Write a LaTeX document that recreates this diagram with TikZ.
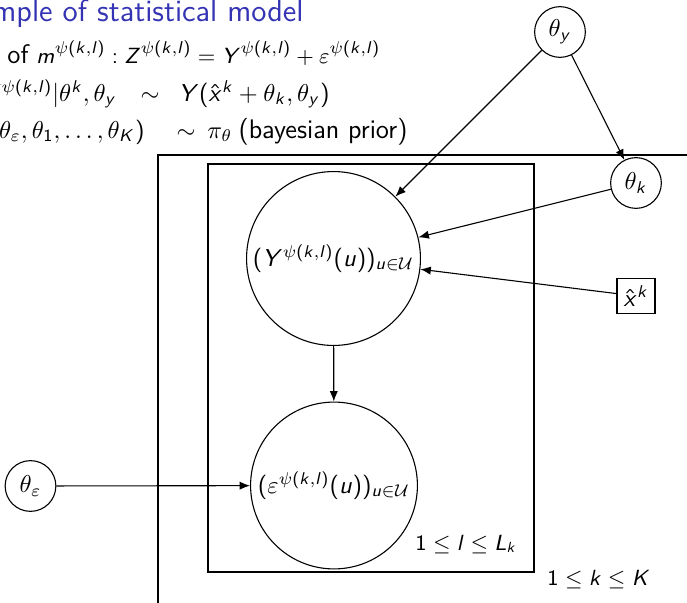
\documentclass[tikz,border=0pt]{standalone}
\usetikzlibrary{arrows.meta}
\SetSymbolFont{operators}{normal}{OT1}{cmss}{m}{n}
\DeclareSymbolFont{sfit}{OT1}{cmss}{m}{sl}
\DeclareMathSymbol{m}{\mathalpha}{sfit}{`m}
\DeclareMathSymbol{Z}{\mathalpha}{sfit}{`Z}
\DeclareMathSymbol{Y}{\mathalpha}{sfit}{`Y}
\DeclareMathSymbol{k}{\mathalpha}{sfit}{`k}
\DeclareMathSymbol{l}{\mathalpha}{sfit}{`l}
\DeclareMathSymbol{x}{\mathalpha}{sfit}{`x}
\DeclareMathSymbol{u}{\mathalpha}{sfit}{`u}
\DeclareMathSymbol{y}{\mathalpha}{sfit}{`y}
\DeclareMathSymbol{K}{\mathalpha}{sfit}{`K}
\DeclareMathSymbol{L}{\mathalpha}{sfit}{`L}
\definecolor{structblue}{RGB}{51,51,179}
\newcommand{\bigtxt}[1]{{\fontsize{11}{13}\selectfont #1}}
\begin{document}
\begin{tikzpicture}[x=0.41pt,y=-0.41pt,
  every node/.style={font=\fontsize{9.6}{12}\selectfont\sffamily},
  small/.style={font=\fontsize{9.1}{11}\selectfont\sffamily},
  line1/.style={font=\fontsize{9.35}{11}\selectfont\sffamily},
  bigc/.style={draw,circle,inner sep=0pt,line width=0.45pt},
  smallc/.style={draw,circle,inner sep=0pt,minimum size=20.8pt,line width=0.45pt},
  obsbox/.style={draw,rectangle,inner sep=1.5pt,minimum width=15.6pt,minimum height=14.3pt,line width=0.45pt},
  plate/.style={draw,line width=0.45pt},
  txt/.style={inner sep=0pt},
  conn/.style={-{Latex[length=4.3pt,width=3.4pt]},line width=0.45pt}]
\useasboundingbox (0,0) rectangle (687,602);
\clip (0,0) rectangle (687,602);
% title and equations
\node[txt,anchor=base east,font=\fontsize{12.7}{14}\selectfont\sffamily,text=structblue] (title) at (304,22) {Example of statistical model};
\node[txt,line1,anchor=base west] (l1) at (7,63) {\bigtxt{of} $m^{\psi(k,l)}:Z^{\psi(k,l)}=Y^{\psi(k,l)}+\varepsilon^{\psi(k,l)}$};
\node[txt,anchor=base east] (l2a) at (117,101) {$Y^{\psi(k,l)}|\theta^k,\theta_y$};
\node[txt,anchor=base] (l2s) at (150,101) {$\sim$};
\node[txt,anchor=base east] (l2b) at (330,101) {$Y(\hat{x}^k+\theta_k,\theta_y)$};
\node[txt,anchor=base east] (l3a) at (145,138) {$(\theta_y,\theta_\varepsilon,\theta_1,\ldots,\theta_K)$};
\node[txt,anchor=base] (l3s) at (186,138) {$\sim$};
\node[txt,anchor=base west] (l3p) at (207,138) {$\pi_\theta$};
\node[txt,anchor=base east] (l3b) at (408,138) {\bigtxt{(bayesian prior)}};
% plates
\draw[plate] (700,155) -- (158,155) -- (158,620);
\draw[plate] (208,164) rectangle (534,572);
\node[txt,small,anchor=base west] (pl) at (415,550) {$1\leq l\leq L_k$};
\node[txt,small,anchor=base west] (pk) at (547,585) {$1\leq k\leq K$};
% nodes
\node[bigc,minimum size=71.3pt] (Y) at (333.5,258.5) {$(Y^{\psi(k,l)}(u))_{u\in\mathcal{U}}$};
\node[bigc,minimum size=68.4pt] (E) at (334,485.5) {$(\varepsilon^{\psi(k,l)}(u))_{u\in\mathcal{U}}$};
\node[smallc] (ty) at (560,32) {$\theta_y$};
\node[smallc] (tk) at (636,183) {$\theta_k$};
\node[obsbox] (xk) at (636,296) {$\hat{x}^k$};
\node[smallc] (te) at (30.5,486) {$\theta_\varepsilon$};
% connectors
\draw[conn] (ty) -- (Y);
\draw[conn] (ty) -- (tk);
\draw[conn] (tk) -- (Y);
\draw[conn] (xk) -- (Y);
\draw[conn] (Y) -- (E);
\draw[conn] (te) -- (E);
\end{tikzpicture}
\end{document}
